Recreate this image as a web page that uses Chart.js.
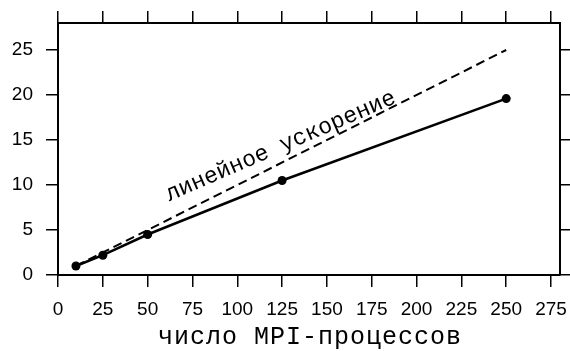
<!DOCTYPE html>
<html>
<head>
<meta charset="utf-8">
<script src="https://cdn.jsdelivr.net/npm/chart.js@4"></script>
<style>
  html, body { margin: 0; padding: 0; background: #fff; overflow: hidden; }
</style>
</head>
<body>
<canvas id="chart" width="570" height="351"></canvas>
<script>
// measured speedup vs number of MPI processes
const procs = [10, 25, 50, 125, 250];
const speedup = [1.0, 2.2, 4.5, 10.5, 19.6];

// ideal (linear) speedup
const idealProcs = [10, 250];
const idealSpeedup = [1, 25];

const xTicks = [0, 25, 50, 75, 100, 125, 150, 175, 200, 225, 250, 275];
const yTicks = [0, 5, 10, 15, 20, 25];

const xTitle = 'число MPI-процессов';
const idealLabel = 'линейное ускорение';

const toPoints = (xs, ys) => xs.map((x, i) => ({ x: x, y: ys[i] }));
const setTicks = (vals) => (scale) => { scale.ticks = vals.map((v) => ({ value: v })); };
// fixed box size, no extra label padding pushed into the layout
const fixSize = (w, h) => (s) => {
  if (w != null) s.width = w;
  if (h != null) s.height = h;
  s.paddingLeft = 0; s.paddingRight = 0; s.paddingTop = 0; s.paddingBottom = 0;
};

const tickGrid = {
  drawOnChartArea: false,
  drawTicks: true,
  tickLength: 12,
  color: '#000',
  lineWidth: 1.5,
};

const tickFont = { family: '"Liberation Sans", Arial, sans-serif', size: 19 };

// x title (with a bit of letter spacing) and rotated label along the ideal line
const textPlugin = {
  id: 'texts',
  afterDraw(chart) {
    const ctx = chart.ctx;
    const xs = chart.scales.x;
    const ys = chart.scales.y;
    const area = chart.chartArea;

    ctx.save();
    ctx.fillStyle = '#000';
    ctx.font = '25px "Liberation Mono", monospace';
    ctx.letterSpacing = '1px';
    ctx.textAlign = 'center';
    ctx.textBaseline = 'alphabetic';
    ctx.fillText(xTitle, (area.left + area.right) / 2 + 1, 344);
    ctx.restore();

    ctx.save();
    ctx.translate(xs.getPixelForValue(62), ys.getPixelForValue(8.2));
    ctx.rotate(-23.4 * Math.PI / 180);
    ctx.font = '23px "Liberation Mono", monospace';
    ctx.fillStyle = '#000';
    ctx.textBaseline = 'alphabetic';
    ctx.fillText(idealLabel, 0, 0);
    ctx.restore();
  }
};

new Chart(document.getElementById('chart'), {
  type: 'line',
  data: {
    datasets: [
      {
        data: toPoints(idealProcs, idealSpeedup),
        borderColor: '#000',
        borderWidth: 2,
        borderDash: [9, 5],
        pointRadius: 0,
        fill: false,
      },
      {
        data: toPoints(procs, speedup),
        borderColor: '#000',
        backgroundColor: '#000',
        borderWidth: 2.5,
        pointRadius: 4.5,
        pointBackgroundColor: '#000',
        pointBorderWidth: 0,
        fill: false,
      },
    ],
  },
  options: {
    responsive: false,
    animation: false,
    layout: { padding: 0 },
    plugins: {
      legend: { display: false },
      tooltip: { enabled: false },
    },
    scales: {
      x: {
        type: 'linear',
        position: 'bottom',
        min: 0,
        max: 280,
        afterBuildTicks: setTicks(xTicks),
        afterFit: fixSize(null, 76),
        grid: tickGrid,
        border: { display: true, color: '#000', width: 2 },
        ticks: { color: '#000', padding: 11, maxRotation: 0, font: tickFont },
      },
      x2: {
        type: 'linear',
        position: 'top',
        min: 0,
        max: 280,
        afterBuildTicks: setTicks(xTicks),
        afterFit: fixSize(null, 23),
        grid: tickGrid,
        border: { display: true, color: '#000', width: 2 },
        ticks: { display: false },
      },
      y: {
        type: 'linear',
        position: 'left',
        min: 0,
        max: 28,
        afterBuildTicks: setTicks(yTicks),
        afterFit: fixSize(58, null),
        grid: tickGrid,
        border: { display: true, color: '#000', width: 2 },
        ticks: { color: '#000', padding: 13, font: tickFont },
      },
      y2: {
        type: 'linear',
        position: 'right',
        min: 0,
        max: 28,
        afterBuildTicks: setTicks(yTicks),
        afterFit: fixSize(10, null),
        grid: tickGrid,
        border: { display: true, color: '#000', width: 2 },
        ticks: { display: false },
      },
    },
  },
  plugins: [textPlugin],
});
</script>
</body>
</html>
